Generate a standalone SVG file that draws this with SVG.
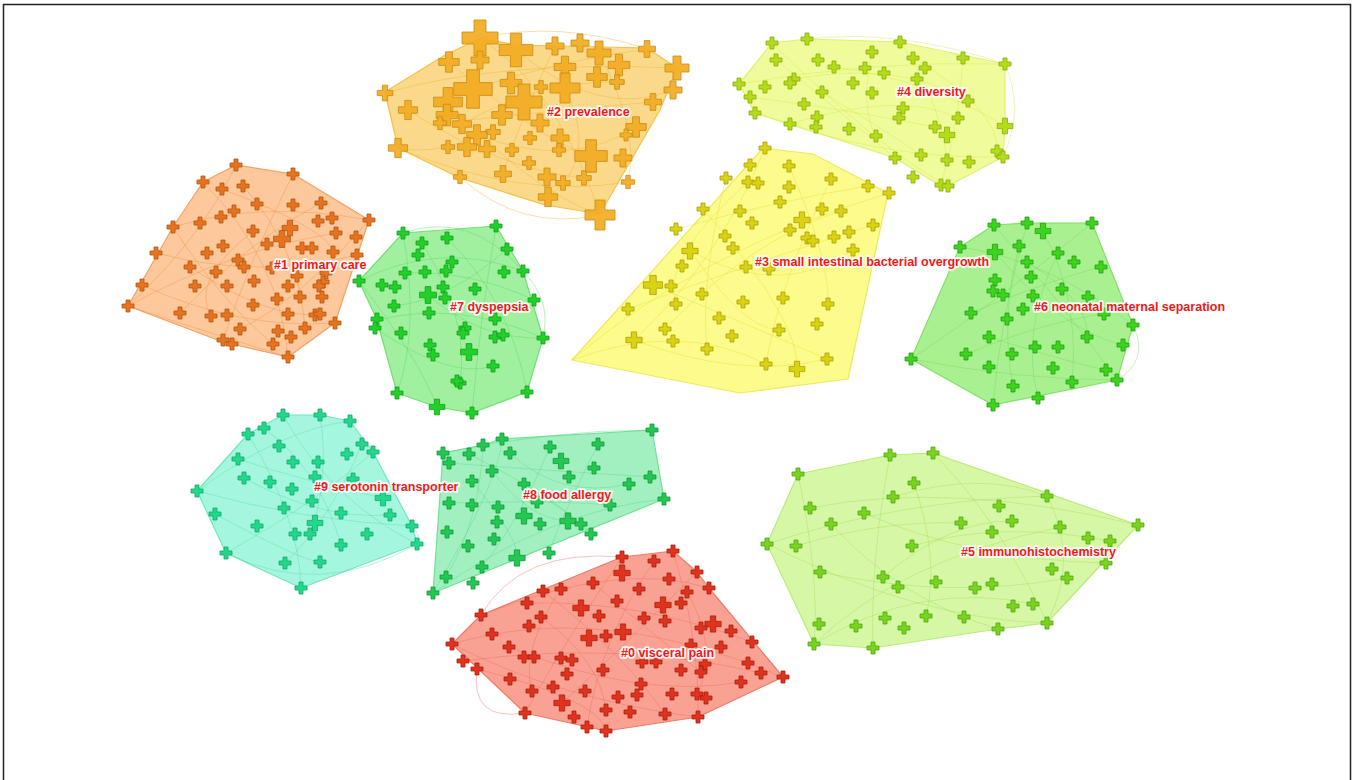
<svg xmlns="http://www.w3.org/2000/svg" xmlns:xlink="http://www.w3.org/1999/xlink" width="1357" height="780" viewBox="0 0 1357 780">
<style>
.h{stroke-width:1.2;stroke-linejoin:round}
.e{fill:none;stroke-width:1;opacity:.4}
.nd{stroke-width:.8}
#n{vector-effect:non-scaling-stroke}
.l{font-family:'Liberation Sans',Arial,sans-serif;font-weight:bold;font-size:12.5px;fill:#f21818;stroke:#fff;stroke-opacity:.9;stroke-width:3.5;paint-order:stroke;stroke-linejoin:round}
.h0{fill:#f9a294;stroke:#f07a66}.n0{fill:#e0321c;stroke:#a82010}.e0{stroke:#f06a58}
.h1{fill:#fcc89c;stroke:#f4a062}.n1{fill:#e8721e;stroke:#b05510}.e1{stroke:#f09040}
.h2{fill:#fbd98a;stroke:#f5c04a}.n2{fill:#f3ab22;stroke:#c88a10;fill-opacity:.92}.e2{stroke:#f0b030}
.h3{fill:#fdfb8c;stroke:#efe860}.n3{fill:#dcd214;stroke:#a8a000}.e3{stroke:#e6dc30}
.h4{fill:#f0fc9c;stroke:#e0f070}.n4{fill:#b4dc1a;stroke:#86ac00}.e4{stroke:#d0e840}
.h5{fill:#d6f8a6;stroke:#b8ec78}.n5{fill:#78d41c;stroke:#4ea410}.e5{stroke:#a0dc50}
.h6{fill:#a9f190;stroke:#80e068}.n6{fill:#3cd41c;stroke:#20a010}.e6{stroke:#70d858}
.h7{fill:#a0f0a0;stroke:#70e070}.n7{fill:#22d02a;stroke:#10a018}.e7{stroke:#58d858}
.h8{fill:#a2f0c0;stroke:#70e098}.n8{fill:#22c852;stroke:#109838}.e8{stroke:#58d888}
.h9{fill:#a4f6de;stroke:#70e8c0}.n9{fill:#22d88a;stroke:#10a868}.e9{stroke:#58dcaa}
</style>
<defs>
<path id="n" d="M-2-6h4v4h4v4h-4v4h-4v-4h-4v-4h4z"/>
</defs>
<rect width="1357" height="780" fill="#fff"/>
<rect x="3.5" y="4.5" width="1347" height="800" fill="none" stroke="#222" stroke-width="1.5"/>

<g id="cluster6">
<polygon class="h h6" points="911,359 960,247 994,225 1027,223 1092,223 1133,325 1117,380 993,405"/>
<path class="e e6" d="M911,359Q1000,300 1092,223M994,225Q1060,300 1117,380M960,247Q1050,260 1133,325M1027,223Q1000,320 993,405M911,359Q1020,380 1117,380M1043,231Q1080,300 1072,382M995,252Q1060,330 1123,345M971,313Q1050,280 1101,267M1019,246Q1000,320 1013,386M966,354Q1050,320 1104,314M1058,253Q1020,330 1038,398M989,337Q1060,360 1106,370M1133,325Q1150,360 1117,380M1027,262Q1090,300 1087,337"/>
<g class="nd n6">
<use href="#n" x="994" y="225"/><use href="#n" x="1027" y="223"/><use href="#n" transform="translate(1043 231) scale(1.3)"/><use href="#n" x="1092" y="223"/><use href="#n" x="960" y="247"/><use href="#n" transform="translate(995 252) scale(1.3)"/><use href="#n" x="1019" y="246"/><use href="#n" x="1058" y="253"/><use href="#n" x="1027" y="262"/><use href="#n" x="1074" y="262"/><use href="#n" x="1101" y="267"/><use href="#n" x="995" y="280"/><use href="#n" x="1031" y="277"/><use href="#n" x="993" y="291"/><use href="#n" x="1003" y="295"/><use href="#n" x="1062" y="289"/><use href="#n" x="1033" y="296"/><use href="#n" x="1088" y="297"/><use href="#n" x="1023" y="309"/><use href="#n" x="971" y="313"/><use href="#n" x="1104" y="314"/><use href="#n" x="1007" y="319"/><use href="#n" x="1133" y="325"/><use href="#n" x="989" y="337"/><use href="#n" x="1087" y="337"/><use href="#n" x="966" y="354"/><use href="#n" x="1035" y="347"/><use href="#n" x="1058" y="347"/><use href="#n" x="1012" y="354"/><use href="#n" x="1123" y="345"/><use href="#n" x="911" y="359"/><use href="#n" x="989" y="367"/><use href="#n" x="1053" y="368"/><use href="#n" x="1106" y="370"/><use href="#n" x="1117" y="380"/><use href="#n" x="1013" y="386"/><use href="#n" x="1072" y="382"/><use href="#n" x="1038" y="398"/><use href="#n" x="993" y="405"/>
</g>
<text class="l" x="1034" y="311">#6 neonatal maternal separation</text>
</g>

<g id="cluster8">
<polygon class="h h8" points="443,453 483,445 502,439 652,430 664,499 433,593"/>
<path class="e e8" d="M443,453Q550,430 652,430M433,593Q500,480 502,439M433,593Q550,510 664,499M469,454Q560,500 591,534M449,463Q540,470 650,477M483,445Q480,520 446,577M510,453Q560,500 629,484M472,481Q520,540 517,558M550,447Q520,520 482,567M598,444Q560,520 549,553M449,503Q550,500 610,505M492,471Q530,520 568,521M524,484Q580,520 591,534"/>
<g class="nd n8">
<use href="#n" x="652" y="430"/><use href="#n" x="502" y="439"/><use href="#n" x="483" y="445"/><use href="#n" x="443" y="453"/><use href="#n" x="469" y="454"/><use href="#n" x="510" y="453"/><use href="#n" x="550" y="447"/><use href="#n" x="598" y="444"/><use href="#n" x="449" y="463"/><use href="#n" transform="translate(561 461) scale(1.3)"/><use href="#n" x="594" y="468"/><use href="#n" x="492" y="471"/><use href="#n" x="569" y="477"/><use href="#n" x="472" y="481"/><use href="#n" x="650" y="477"/><use href="#n" x="629" y="484"/><use href="#n" x="524" y="484"/><use href="#n" x="449" y="503"/><use href="#n" x="472" y="505"/><use href="#n" x="498" y="507"/><use href="#n" x="537" y="502"/><use href="#n" x="610" y="505"/><use href="#n" x="664" y="499"/><use href="#n" transform="translate(524 516) scale(1.35)"/><use href="#n" x="497" y="522"/><use href="#n" x="540" y="524"/><use href="#n" transform="translate(568 521) scale(1.35)"/><use href="#n" x="581" y="524"/><use href="#n" x="447" y="532"/><use href="#n" x="591" y="534"/><use href="#n" x="494" y="539"/><use href="#n" x="468" y="546"/><use href="#n" transform="translate(517 558) scale(1.35)"/><use href="#n" x="549" y="553"/><use href="#n" x="482" y="567"/><use href="#n" x="446" y="577"/><use href="#n" x="473" y="583"/><use href="#n" x="433" y="593"/>
</g>
<text class="l" x="523" y="499">#8 food allergy</text>
</g>

<g id="cluster0">
<path class="e e0" d="M481,615Q520,548 622,557M477,669Q470,722 525,713"/>
<polygon class="h h0" points="452,644 481,615 622,557 673,551 697,572 709,588 783,677 698,717 606,731 525,713"/>
<path class="e e0" d="M452,644Q600,600 783,677M481,615Q620,560 709,588M622,557Q560,650 525,713M673,551Q700,640 698,717M463,661Q620,640 761,673M543,591Q620,650 665,714M477,669Q600,700 606,731M527,603Q640,600 752,642M697,572Q620,650 562,703M509,647Q640,700 741,682M593,583Q660,640 701,672M452,644Q560,700 698,717M541,617Q600,660 606,710M687,592Q720,650 697,694M561,589Q520,650 532,691M654,561Q600,640 587,727"/>
<g class="nd n0">
<use href="#n" x="622" y="557"/><use href="#n" x="673" y="551"/><use href="#n" x="654" y="561"/><use href="#n" x="697" y="572"/><use href="#n" transform="translate(622 573) scale(1.35)"/><use href="#n" x="669" y="579"/><use href="#n" x="593" y="583"/><use href="#n" x="639" y="589"/><use href="#n" x="543" y="591"/><use href="#n" x="561" y="589"/><use href="#n" x="709" y="588"/><use href="#n" x="687" y="592"/><use href="#n" x="527" y="603"/><use href="#n" x="617" y="601"/><use href="#n" transform="translate(581 608) scale(1.35)"/><use href="#n" transform="translate(663 605) scale(1.35)"/><use href="#n" x="681" y="603"/><use href="#n" x="481" y="615"/><use href="#n" x="599" y="616"/><use href="#n" x="541" y="617"/><use href="#n" x="644" y="618"/><use href="#n" x="665" y="621"/><use href="#n" x="529" y="626"/><use href="#n" transform="translate(713 624) scale(1.35)"/><use href="#n" x="701" y="628"/><use href="#n" x="731" y="631"/><use href="#n" x="492" y="634"/><use href="#n" transform="translate(623 632) scale(1.35)"/><use href="#n" x="606" y="636"/><use href="#n" transform="translate(589 638) scale(1.35)"/><use href="#n" x="452" y="644"/><use href="#n" x="752" y="642"/><use href="#n" x="509" y="647"/><use href="#n" x="721" y="647"/><use href="#n" x="691" y="645"/><use href="#n" x="524" y="657"/><use href="#n" x="534" y="657"/><use href="#n" x="561" y="658"/><use href="#n" x="572" y="660"/><use href="#n" x="642" y="662"/><use href="#n" x="656" y="662"/><use href="#n" x="463" y="661"/><use href="#n" x="748" y="663"/><use href="#n" x="705" y="664"/><use href="#n" x="477" y="669"/><use href="#n" x="603" y="670"/><use href="#n" x="681" y="670"/><use href="#n" x="701" y="672"/><use href="#n" x="761" y="673"/><use href="#n" x="783" y="677"/><use href="#n" x="567" y="674"/><use href="#n" x="510" y="679"/><use href="#n" x="641" y="684"/><use href="#n" x="741" y="682"/><use href="#n" x="553" y="687"/><use href="#n" x="532" y="691"/><use href="#n" x="585" y="691"/><use href="#n" x="672" y="694"/><use href="#n" x="697" y="694"/><use href="#n" x="706" y="698"/><use href="#n" x="618" y="697"/><use href="#n" x="637" y="695"/><use href="#n" transform="translate(562 703) scale(1.35)"/><use href="#n" x="606" y="710"/><use href="#n" x="630" y="712"/><use href="#n" x="665" y="714"/><use href="#n" x="698" y="717"/><use href="#n" x="525" y="713"/><use href="#n" x="574" y="717"/><use href="#n" x="587" y="727"/><use href="#n" x="606" y="731"/>
</g>
<text class="l" x="621" y="657">#0 visceral pain</text>
</g>

<g id="cluster1">
<polygon class="h h1" points="128,306 173,227 203,182 236,165 293,174 369,220 335,323 288,357 223,342"/>
<path class="e e1" d="M236,165Q200,240 128,306M173,227Q260,200 369,220M203,182Q280,260 288,357M128,306Q230,250 336,233M293,174Q250,260 223,340M142,285Q240,330 335,323M156,253Q260,280 357,255M243,186Q300,250 305,328M180,313Q250,240 321,203M190,267Q270,320 320,314M222,189Q330,230 333,252M173,227Q220,300 273,344M253,231Q190,280 211,316M369,220Q300,300 240,329M128,306Q200,330 288,357"/>
<g class="nd n1">
<use href="#n" x="236" y="165"/><use href="#n" x="203" y="182"/><use href="#n" x="293" y="174"/><use href="#n" x="243" y="186"/><use href="#n" x="222" y="189"/><use href="#n" x="257" y="204"/><use href="#n" x="293" y="205"/><use href="#n" x="321" y="203"/><use href="#n" x="234" y="211"/><use href="#n" x="173" y="227"/><use href="#n" x="200" y="223"/><use href="#n" x="221" y="217"/><use href="#n" x="318" y="221"/><use href="#n" x="332" y="218"/><use href="#n" x="369" y="220"/><use href="#n" transform="translate(290 228) scale(1.3)"/><use href="#n" x="253" y="231"/><use href="#n" x="336" y="233"/><use href="#n" x="356" y="237"/><use href="#n" transform="translate(282 239) scale(1.4)"/><use href="#n" x="267" y="244"/><use href="#n" x="223" y="246"/><use href="#n" x="302" y="248"/><use href="#n" x="312" y="248"/><use href="#n" x="156" y="253"/><use href="#n" x="207" y="253"/><use href="#n" x="333" y="252"/><use href="#n" x="357" y="255"/><use href="#n" x="238" y="260"/><use href="#n" x="244" y="267"/><use href="#n" x="190" y="267"/><use href="#n" x="216" y="272"/><use href="#n" x="272" y="268"/><use href="#n" x="326" y="273"/><use href="#n" x="297" y="276"/><use href="#n" x="254" y="281"/><use href="#n" x="323" y="282"/><use href="#n" x="142" y="285"/><use href="#n" x="195" y="286"/><use href="#n" x="227" y="286"/><use href="#n" x="288" y="286"/><use href="#n" x="319" y="286"/><use href="#n" x="300" y="297"/><use href="#n" x="322" y="297"/><use href="#n" x="277" y="299"/><use href="#n" x="253" y="305"/><use href="#n" x="128" y="306"/><use href="#n" x="180" y="313"/><use href="#n" x="211" y="316"/><use href="#n" x="227" y="315"/><use href="#n" x="288" y="314"/><use href="#n" x="315" y="315"/><use href="#n" x="320" y="314"/><use href="#n" x="240" y="329"/><use href="#n" x="278" y="331"/><use href="#n" x="305" y="328"/><use href="#n" x="335" y="323"/><use href="#n" x="223" y="340"/><use href="#n" x="232" y="344"/><use href="#n" x="273" y="344"/><use href="#n" x="291" y="337"/><use href="#n" x="288" y="357"/>
</g>
<text class="l" x="274" y="269">#1 primary care</text>
</g>

<g id="cluster2">
<polygon class="h h2" points="385,92 445,55 481,38 516,45 647,48 677,68 660,110 600,214 545,205 460,178 398,148"/>
<path class="e e2" d="M480,38Q560,90 600,215M385,93Q500,60 677,68M398,148Q520,200 628,182M449,62Q540,140 591,156M516,50Q600,120 673,90M408,110Q500,170 584,178M473,89Q560,60 647,49M448,102Q530,190 600,215M440,123Q560,110 653,102M555,46Q520,120 503,174M599,53Q640,130 628,182M462,124Q540,80 617,82M477,135Q570,170 636,127M524,102Q460,160 398,148M565,88Q600,160 548,197M460,177Q520,232 600,215M480,38Q560,20 647,49"/>
<g class="nd n2">
<use href="#n" transform="translate(480 38) scale(3)"/><use href="#n" transform="translate(516 50) scale(2.8)"/><use href="#n" transform="translate(555 46) scale(1.5)"/><use href="#n" transform="translate(580 43) scale(1.5)"/><use href="#n" transform="translate(599 53) scale(2)"/><use href="#n" transform="translate(647 49) scale(1.4)"/><use href="#n" transform="translate(449 62) scale(1.7)"/><use href="#n" transform="translate(480 60) scale(1.5)"/><use href="#n" transform="translate(677 68) scale(2)"/><use href="#n" transform="translate(619 65) scale(1.8)"/><use href="#n" transform="translate(565 67) scale(1.8)"/><use href="#n" transform="translate(597 77) scale(1.7)"/><use href="#n" transform="translate(617 82) scale(1.2)"/><use href="#n" transform="translate(673 90) scale(1.5)"/><use href="#n" transform="translate(385 93) scale(1.3)"/><use href="#n" transform="translate(473 89) scale(3.2)"/><use href="#n" transform="translate(511 83) scale(1.8)"/><use href="#n" transform="translate(541 87) scale(1.1)"/><use href="#n" transform="translate(565 88) scale(2.5)"/><use href="#n" transform="translate(524 102) scale(3)"/><use href="#n" transform="translate(448 102) scale(2.4)"/><use href="#n" transform="translate(408 110) scale(1.6)"/><use href="#n" transform="translate(653 102) scale(1.4)"/><use href="#n" transform="translate(447 115) scale(1.8)"/><use href="#n" transform="translate(502 115) scale(1.7)"/><use href="#n" transform="translate(440 123) scale(1.1)"/><use href="#n" transform="translate(462 124) scale(1.6)"/><use href="#n" transform="translate(540 123) scale(1.5)"/><use href="#n" transform="translate(636 127) scale(1.7)"/><use href="#n" transform="translate(493 132) scale(1.2)"/><use href="#n" transform="translate(477 135) scale(1.7)"/><use href="#n" x="626" y="135"/><use href="#n" transform="translate(560 138) scale(1.5)"/><use href="#n" transform="translate(530 138) scale(1.1)"/><use href="#n" transform="translate(398 148) scale(1.6)"/><use href="#n" transform="translate(448 147) scale(1.1)"/><use href="#n" transform="translate(467 147) scale(1.6)"/><use href="#n" transform="translate(487 149) scale(1.4)"/><use href="#n" transform="translate(512 150) scale(1.1)"/><use href="#n" transform="translate(559 150) scale(1.1)"/><use href="#n" transform="translate(591 156) scale(2.7)"/><use href="#n" transform="translate(623 158) scale(1.5)"/><use href="#n" transform="translate(529 163) scale(1.1)"/><use href="#n" transform="translate(584 178) scale(1.2)"/><use href="#n" transform="translate(460 177) scale(1.1)"/><use href="#n" transform="translate(503 174) scale(1.4)"/><use href="#n" transform="translate(547 177) scale(1.5)"/><use href="#n" transform="translate(563 183) scale(1.2)"/><use href="#n" transform="translate(628 182) scale(1.1)"/><use href="#n" transform="translate(548 197) scale(1.6)"/><use href="#n" transform="translate(600 215) scale(2.5)"/>
</g>
<text class="l" x="547" y="116">#2 prevalence</text>
</g>

<g id="cluster3">
<polygon class="h h3" points="572,360 763,148 813,154 888,193 848,379 740,393"/>
<path class="e e3" d="M572,360Q700,250 889,193M765,148Q720,260 634,340M628,309Q760,260 873,225M703,209Q800,320 797,369M676,229Q780,200 868,186M653,285Q760,330 827,359M726,178Q700,280 707,349M789,166Q830,260 828,304M665,329Q750,240 841,211M690,251Q780,300 853,250M748,182Q660,260 676,304M831,179Q780,280 766,364M634,340Q740,380 827,359M676,229Q740,330 779,330M572,360Q680,320 766,364"/>
<g class="nd n3">
<use href="#n" x="765" y="148"/><use href="#n" x="750" y="165"/><use href="#n" x="789" y="166"/><use href="#n" x="726" y="178"/><use href="#n" x="748" y="182"/><use href="#n" x="758" y="183"/><use href="#n" x="789" y="187"/><use href="#n" x="831" y="179"/><use href="#n" x="868" y="186"/><use href="#n" x="889" y="193"/><use href="#n" x="780" y="202"/><use href="#n" x="703" y="209"/><use href="#n" x="740" y="211"/><use href="#n" x="822" y="209"/><use href="#n" x="841" y="211"/><use href="#n" transform="translate(802 220) scale(1.35)"/><use href="#n" x="752" y="223"/><use href="#n" x="790" y="230"/><use href="#n" x="676" y="229"/><use href="#n" x="849" y="232"/><use href="#n" x="873" y="225"/><use href="#n" x="725" y="236"/><use href="#n" x="834" y="237"/><use href="#n" x="807" y="238"/><use href="#n" x="813" y="241"/><use href="#n" x="733" y="248"/><use href="#n" transform="translate(690 251) scale(1.35)"/><use href="#n" x="853" y="250"/><use href="#n" x="682" y="266"/><use href="#n" x="746" y="267"/><use href="#n" x="769" y="269"/><use href="#n" transform="translate(653 285) scale(1.6)"/><use href="#n" x="671" y="286"/><use href="#n" x="702" y="294"/><use href="#n" x="676" y="304"/><use href="#n" x="743" y="302"/><use href="#n" x="783" y="298"/><use href="#n" x="828" y="304"/><use href="#n" x="628" y="309"/><use href="#n" x="719" y="318"/><use href="#n" x="817" y="324"/><use href="#n" x="665" y="329"/><use href="#n" transform="translate(634 340) scale(1.35)"/><use href="#n" x="673" y="341"/><use href="#n" x="732" y="336"/><use href="#n" x="779" y="330"/><use href="#n" x="707" y="349"/><use href="#n" x="827" y="359"/><use href="#n" x="766" y="364"/><use href="#n" transform="translate(797 369) scale(1.3)"/>
</g>
<text class="l" x="755" y="266">#3 small intestinal bacterial overgrowth</text>
</g>

<g id="cluster4">
<polygon class="h h4" points="739,84 772,43 807,39 900,42 1005,64 1005,126 1003,157 948,186 941,186 895,158 790,124 755,113"/>
<path class="e e4" d="M739,84Q870,60 1005,64M772,43Q880,150 948,186M807,39Q900,28 1005,64M755,113Q880,160 1003,157M776,60Q850,120 895,158M794,79Q900,60 968,101M900,42Q940,100 947,160M913,58Q1000,110 997,151M750,97Q850,110 935,127M822,92Q900,140 921,155M834,67Q930,80 1005,126M872,52Q860,110 876,136M963,58Q960,120 941,185M790,124Q900,90 958,118M1005,64Q1025,110 1003,157"/>
<g class="nd n4">
<use href="#n" x="772" y="43"/><use href="#n" x="807" y="39"/><use href="#n" x="900" y="42"/><use href="#n" x="872" y="52"/><use href="#n" x="776" y="60"/><use href="#n" x="818" y="60"/><use href="#n" x="913" y="58"/><use href="#n" x="963" y="58"/><use href="#n" x="1005" y="64"/><use href="#n" x="834" y="67"/><use href="#n" x="865" y="68"/><use href="#n" x="925" y="68"/><use href="#n" x="884" y="73"/><use href="#n" x="794" y="79"/><use href="#n" x="790" y="83"/><use href="#n" x="917" y="79"/><use href="#n" x="739" y="84"/><use href="#n" x="853" y="83"/><use href="#n" x="765" y="87"/><use href="#n" x="822" y="92"/><use href="#n" x="872" y="93"/><use href="#n" x="750" y="97"/><use href="#n" x="804" y="104"/><use href="#n" x="968" y="101"/><use href="#n" x="903" y="108"/><use href="#n" x="755" y="113"/><use href="#n" x="817" y="117"/><use href="#n" x="899" y="118"/><use href="#n" x="958" y="118"/><use href="#n" x="790" y="124"/><use href="#n" x="816" y="127"/><use href="#n" x="849" y="129"/><use href="#n" x="935" y="127"/><use href="#n" transform="translate(1005 126) scale(1.3)"/><use href="#n" transform="translate(947 135) scale(1.3)"/><use href="#n" x="876" y="136"/><use href="#n" x="895" y="158"/><use href="#n" x="921" y="155"/><use href="#n" x="947" y="160"/><use href="#n" x="969" y="162"/><use href="#n" x="997" y="151"/><use href="#n" x="1003" y="157"/><use href="#n" x="913" y="177"/><use href="#n" x="941" y="185"/><use href="#n" x="948" y="186"/>
</g>
<text class="l" x="897" y="96">#4 diversity</text>
</g>

<g id="cluster5">
<polygon class="h h5" points="767,544 798,474 890,455 933,453 1138,525 1047,623 998,629 873,648 814,644"/>
<path class="e e5" d="M767,544Q900,500 1047,496M798,474Q820,580 814,644M890,455Q870,560 873,648M933,453Q1000,520 1047,623M810,508Q950,480 1138,525M767,544Q920,620 1047,623M864,513Q970,560 1106,563M893,497Q980,470 1047,496M831,524Q900,600 998,629M814,644Q900,560 1060,527M912,546Q1000,520 1110,541M820,572Q950,600 1067,578M883,577Q950,520 1012,521M914,483Q940,560 926,616M1047,496Q1080,560 1047,623M796,546Q880,520 961,523M814,644Q920,580 1033,604"/>
<g class="nd n5">
<use href="#n" x="890" y="455"/><use href="#n" x="933" y="453"/><use href="#n" x="798" y="474"/><use href="#n" x="914" y="483"/><use href="#n" x="893" y="497"/><use href="#n" x="1047" y="496"/><use href="#n" x="810" y="508"/><use href="#n" x="864" y="513"/><use href="#n" x="999" y="506"/><use href="#n" x="831" y="524"/><use href="#n" x="961" y="523"/><use href="#n" x="1012" y="521"/><use href="#n" x="1060" y="527"/><use href="#n" x="1138" y="525"/><use href="#n" x="992" y="532"/><use href="#n" x="767" y="544"/><use href="#n" x="796" y="546"/><use href="#n" x="912" y="546"/><use href="#n" x="1088" y="538"/><use href="#n" x="1110" y="541"/><use href="#n" x="1106" y="563"/><use href="#n" x="1052" y="569"/><use href="#n" x="820" y="572"/><use href="#n" x="883" y="577"/><use href="#n" x="1067" y="578"/><use href="#n" x="898" y="587"/><use href="#n" x="936" y="582"/><use href="#n" x="992" y="584"/><use href="#n" x="975" y="588"/><use href="#n" x="1013" y="606"/><use href="#n" x="1033" y="604"/><use href="#n" x="885" y="618"/><use href="#n" x="926" y="616"/><use href="#n" x="964" y="617"/><use href="#n" x="819" y="624"/><use href="#n" x="856" y="626"/><use href="#n" x="904" y="628"/><use href="#n" x="998" y="629"/><use href="#n" x="1047" y="623"/><use href="#n" x="814" y="644"/><use href="#n" x="873" y="648"/>
</g>
<text class="l" x="961" y="556">#5 immunohistochemistry</text>
</g>

<g id="cluster7">
<polygon class="h h7" points="359,281 403,233 496,226 523,271 543,338 527,392 472,413 437,407 397,393 377,320"/>
<path class="e e7" d="M359,281Q440,240 523,271M403,233Q420,330 397,393M496,226Q480,320 472,413M377,320Q460,300 543,338M359,281Q420,360 437,407M447,238Q510,300 527,392M405,273Q470,270 534,300M375,328Q450,380 493,366M422,243Q470,320 460,383M507,249Q450,300 394,306M428,295Q480,340 543,338M523,271Q552,300 543,338M403,233Q470,210 523,271"/>
<g class="nd n7">
<use href="#n" x="403" y="233"/><use href="#n" x="496" y="226"/><use href="#n" x="447" y="238"/><use href="#n" x="422" y="243"/><use href="#n" x="507" y="249"/><use href="#n" x="418" y="255"/><use href="#n" x="452" y="262"/><use href="#n" x="405" y="273"/><use href="#n" x="425" y="272"/><use href="#n" x="446" y="271"/><use href="#n" x="504" y="272"/><use href="#n" x="523" y="271"/><use href="#n" x="359" y="281"/><use href="#n" x="382" y="285"/><use href="#n" x="395" y="287"/><use href="#n" x="443" y="287"/><use href="#n" x="475" y="289"/><use href="#n" transform="translate(428 295) scale(1.4)"/><use href="#n" x="445" y="298"/><use href="#n" x="534" y="300"/><use href="#n" x="394" y="306"/><use href="#n" x="429" y="313"/><use href="#n" x="377" y="319"/><use href="#n" x="495" y="319"/><use href="#n" x="375" y="328"/><use href="#n" x="465" y="328"/><use href="#n" x="463" y="333"/><use href="#n" x="401" y="333"/><use href="#n" x="495" y="337"/><use href="#n" x="503" y="335"/><use href="#n" x="543" y="338"/><use href="#n" x="430" y="345"/><use href="#n" x="433" y="355"/><use href="#n" transform="translate(469 352) scale(1.4)"/><use href="#n" x="493" y="366"/><use href="#n" x="460" y="383"/><use href="#n" x="457" y="381"/><use href="#n" x="397" y="393"/><use href="#n" x="527" y="392"/><use href="#n" transform="translate(437 407) scale(1.3)"/><use href="#n" x="472" y="413"/>
</g>
<text class="l" x="450" y="311">#7 dyspepsia</text>
</g>

<g id="cluster9">
<polygon class="h h9" points="197,491 248,434 283,415 320,415 350,421 373,452 412,526 417,544 301,588 226,553"/>
<path class="e e9" d="M197,491Q280,430 350,421M248,434Q300,520 301,588M283,415Q330,500 417,544M320,415Q330,480 310,534M197,491Q300,520 412,526M226,553Q320,500 373,452M238,459Q300,480 383,498M264,428Q320,470 341,545M215,514Q300,560 320,562M362,444Q330,520 285,563M244,478Q320,520 390,515M412,526Q424,540 417,544M226,553Q320,600 417,544"/>
<g class="nd n9">
<use href="#n" x="283" y="415"/><use href="#n" x="320" y="415"/><use href="#n" x="350" y="421"/><use href="#n" x="264" y="428"/><use href="#n" x="248" y="434"/><use href="#n" x="362" y="444"/><use href="#n" x="279" y="446"/><use href="#n" x="373" y="452"/><use href="#n" x="347" y="454"/><use href="#n" x="238" y="459"/><use href="#n" x="293" y="462"/><use href="#n" x="318" y="462"/><use href="#n" x="244" y="478"/><use href="#n" x="270" y="482"/><use href="#n" x="315" y="477"/><use href="#n" x="353" y="479"/><use href="#n" x="197" y="491"/><use href="#n" x="292" y="489"/><use href="#n" transform="translate(383 498) scale(1.3)"/><use href="#n" x="312" y="501"/><use href="#n" x="284" y="508"/><use href="#n" x="390" y="515"/><use href="#n" x="341" y="513"/><use href="#n" x="215" y="514"/><use href="#n" transform="translate(315 523) scale(1.3)"/><use href="#n" x="412" y="526"/><use href="#n" x="257" y="526"/><use href="#n" x="295" y="534"/><use href="#n" x="310" y="534"/><use href="#n" x="367" y="534"/><use href="#n" x="341" y="545"/><use href="#n" x="417" y="544"/><use href="#n" x="226" y="553"/><use href="#n" x="285" y="563"/><use href="#n" x="320" y="562"/><use href="#n" x="301" y="588"/>
</g>
<text class="l" x="314" y="491">#9 serotonin transporter</text>
</g>
</svg>
